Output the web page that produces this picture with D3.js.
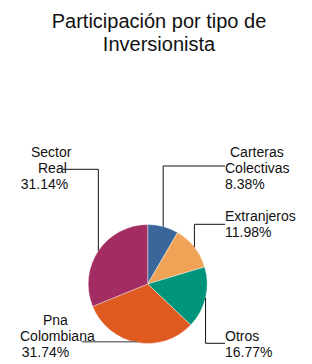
<!DOCTYPE html>
<html>
<head>
<meta charset="utf-8">
<script src="https://cdn.jsdelivr.net/npm/d3@7"></script>
<style>
  body { margin: 0; background: #fff; }
  text { font-family: "Liberation Sans", Arial, sans-serif; fill: #111; }
</style>
</head>
<body>
<svg id="chart" width="312" height="364"></svg>
<script>
// data
const categories = ["Carteras Colectivas", "Extranjeros", "Otros", "Pna Colombiana", "Sector Real"];
const shares = [8.38, 11.98, 16.77, 31.74, 31.14];
const colors = ["#3b6699", "#f0a356", "#00957a", "#df5a20", "#a32c62"];
// how each label is broken into lines
const labelLines = [
    ["Carteras", "Colectivas", "8.38%"],
    ["Extranjeros", "11.98%"],
    ["Otros", "16.77%"],
    ["Pna", "Colombiana", "31.74%"],
    ["Sector", "Real", "31.14%"]
];

let svg = d3.select( "#chart" );
let cx = 147.7, cy = 284, r = 59.5;

let title = svg.append( "text" ).attr( "text-anchor", "middle" ).style( "font-size", "20px" );
title.append( "tspan" ).attr( "x", 159 ).attr( "y", 28 ).text( "Participación por tipo de" );
title.append( "tspan" ).attr( "x", 159 ).attr( "y", 51 ).text( "Inversionista" );

let pie = d3.pie().sort( null ).value( function ( d ) { return d; } );
let arc = d3.arc().innerRadius( 0 ).outerRadius( r );
let arcs = pie( shares );

let g = svg.append( "g" ).attr( "transform", "translate(" + cx + "," + cy + ")" );
g.selectAll( "path" ).data( arcs ).enter().append( "path" )
    .attr( "d", arc )
    .attr( "fill", function ( d, i ) { return colors[ i ]; } )
    .attr( "stroke", "#fff" ).attr( "stroke-width", 0.4 );

// label placement: y of the leader's horizontal run, where it stops, and text line x offsets
let place = [
    { ly: 166,   lx: 225,  tx: [ 230, 225, 225 ], ty: 157 },
    { ly: 224.3, lx: 225,  tx: [ 225, 225 ],      ty: 221 },
    { ly: 343.3, lx: 225,  tx: [ 225, 225 ],      ty: 341 },
    { ly: 341.7, lx: 81.7, tx: [ 43, 20, 21.7 ],  ty: 325, grey: true },
    { ly: 169.3, lx: 63,   tx: [ 31, 38, 20.7 ],  ty: 157 }
];

arcs.forEach( function ( a, i ) {
    let mid = ( a.startAngle + a.endAngle ) / 2;
    let ex = cx + r * Math.sin( mid ), ey = cy - r * Math.cos( mid );
    let p = place[ i ];
    svg.append( "polyline" )
        .attr( "points", [ [ ex, ey ], [ ex, p.ly ], [ p.lx, p.ly ] ].map( function ( q ) { return q.join( "," ); } ).join( " " ) )
        .attr( "fill", "none" )
        .attr( "stroke", p.grey ? "#777" : "#111" )
        .attr( "stroke-width", p.grey ? 1.4 : 1 );
    let t = svg.append( "text" ).style( "font-size", "14px" );
    labelLines[ i ].forEach( function ( s, k ) {
        t.append( "tspan" ).attr( "x", p.tx[ k ] ).attr( "y", p.ty + k * 16 ).text( s );
    } );
} );
</script>
</body>
</html>
